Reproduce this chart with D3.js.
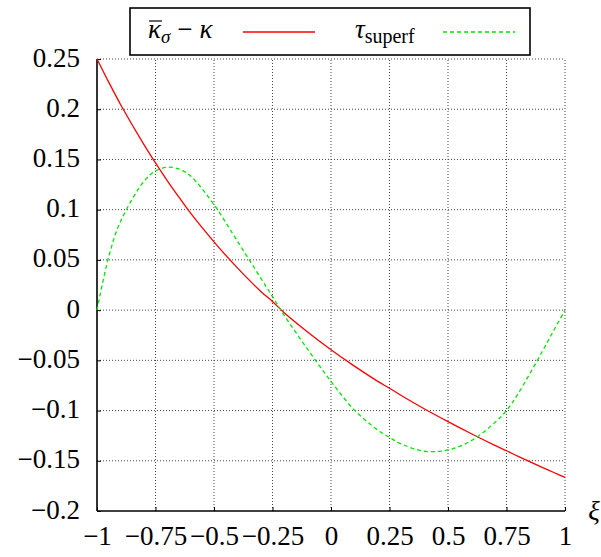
<!DOCTYPE html>
<html><head><meta charset="utf-8">
<script src="https://cdn.jsdelivr.net/npm/d3@7"></script>
<style>body{margin:0;background:#fff}svg{display:block}svg text{font-family:"Liberation Serif","DejaVu Serif",serif}</style>
</head><body>
<svg id="c" width="601" height="557"></svg>
<script>
const xi = [-1,-0.95,-0.9,-0.8,-0.75,-0.7,-0.65,-0.6,-0.5,-0.4,-0.3,-0.25,-0.2,-0.1,0,0.1,0.2,0.25,0.3,0.4,0.5,0.6,0.7,0.75,0.8,0.9,0.95,1];
const kappaDiff = [0.25,0.227,0.205,0.165,0.1466,0.129,0.1125,0.0965,0.068,0.042,0.0186,0.0086,-0.0026,-0.0218,-0.0395,-0.0558,-0.0709,-0.0778,-0.085,-0.0984,-0.111,-0.1231,-0.1346,-0.1400,-0.1457,-0.1563,-0.1614,-0.1665];
const tauSuperf = [0,0.053,0.088,0.128,0.1385,0.1422,0.1405,0.1335,0.105,0.0686,0.0319,0.0135,-0.0052,-0.0389,-0.071,-0.0995,-0.1195,-0.1267,-0.1332,-0.1405,-0.1392,-0.1299,-0.112,-0.1,-0.083,-0.0424,-0.021,0];
const xTicks = [-1,-0.75,-0.5,-0.25,0,0.25,0.5,0.75,1];
const xTickLabels = ["−1","−0.75","−0.5","−0.25","0","0.25","0.5","0.75","1"];
const yTicks = [0.25,0.2,0.15,0.1,0.05,0,-0.05,-0.1,-0.15,-0.2];
const yTickLabels = ["0.25","0.2","0.15","0.1","0.05","0","−0.05","−0.1","−0.15","−0.2"];

const svg = d3.select("#c");
const L = 97, R = 565, T = 59, B = 511;
const x = d3.scaleLinear().domain([-1,1]).range([L,R]);
const y = d3.scaleLinear().domain([-0.2,0.25]).range([B,T]);
const font = '"Liberation Serif","DejaVu Serif",serif';

// grid
const grid = svg.append("g").attr("stroke","#444").attr("stroke-width",1).attr("stroke-dasharray","1,2");
xTicks.forEach(t => { if (t > -1) grid.append("line").attr("x1",x(t)).attr("x2",x(t)).attr("y1",B).attr("y2",T); });
yTicks.forEach(t => { if (t > -0.2) grid.append("line").attr("x1",L).attr("x2",R).attr("y1",y(t)).attr("y2",y(t)); });

// axes
const xAxis = svg.append("g").attr("transform",`translate(0,${B})`)
  .call(d3.axisBottom(x).tickValues(xTicks).tickSize(-4).tickFormat((d,i)=>xTickLabels[i]));
const yAxis = svg.append("g").attr("transform",`translate(${L},0)`)
  .call(d3.axisLeft(y).tickValues(yTicks).tickSize(-4).tickFormat((d,i)=>yTickLabels[i]));
[xAxis,yAxis].forEach(a=>{
  a.attr("font-family",null).attr("font-size",null);
  a.select(".domain").attr("stroke","#000").attr("stroke-width",1.6);
  a.selectAll(".tick line").attr("stroke","#000").attr("stroke-width",1);
  a.selectAll("text").style("font-family",font).style("font-size","27px").attr("fill","#000");
});
yAxis.select(".domain").attr("d",`M0,${B-T}V0`).attr("transform",`translate(0,${T})`);
xAxis.select(".domain").attr("d",`M${L},0H${R}`);
yAxis.selectAll("text").attr("x",-17).attr("dy",null).attr("y",7);
xAxis.selectAll("text").attr("dy",null).attr("y",34);

// curves
const line = d3.line().curve(d3.curveCatmullRom.alpha(0.5));
svg.append("path").attr("d", line(xi.map((d,i)=>[x(d),y(kappaDiff[i])])))
  .attr("fill","none").attr("stroke","#ff0000").attr("stroke-width",1.3);
svg.append("path").attr("d", line(xi.map((d,i)=>[x(d),y(tauSuperf[i])])))
  .attr("fill","none").attr("stroke","#00e600").attr("stroke-width",1.3).attr("stroke-dasharray","4,3");

// axis label
svg.append("text").attr("x",594).attr("y",520).attr("text-anchor","middle")
  .style("font-family",font).style("font-style","italic").style("font-size","27px").text("ξ");

// legend
const lg = svg.append("g");
lg.append("rect").attr("x",130).attr("y",8).attr("width",400).attr("height",47)
  .attr("fill","#fff").attr("stroke","#000").attr("stroke-width",1.6);
const t1 = lg.append("text").attr("x",148).attr("y",38).style("font-family",font).style("font-size","27px");
t1.append("tspan").style("font-style","italic").text("κ");
t1.append("tspan").style("font-style","italic").style("font-size","19px").attr("dy",5).text("σ");
t1.append("tspan").attr("dy",-5).attr("dx",7).text("−");
t1.append("tspan").style("font-style","italic").attr("dx",7).text("κ");
const ext = t1.node().getExtentOfChar(0);
lg.append("line").attr("x1",ext.x+1).attr("x2",ext.x+ext.width+1).attr("y1",ext.y+7).attr("y2",ext.y+7)
  .attr("stroke","#000").attr("stroke-width",1.2);
lg.append("line").attr("x1",243).attr("x2",315).attr("y1",32).attr("y2",32).attr("stroke","#ff0000").attr("stroke-width",1.3);
const t2 = lg.append("text").attr("x",355).attr("y",38).style("font-family",font).style("font-size","27px");
t2.append("tspan").style("font-style","italic").text("τ");
t2.append("tspan").style("font-size","20px").attr("dy",5).text("superf");
lg.append("line").attr("x1",443).attr("x2",515).attr("y1",32).attr("y2",32).attr("stroke","#00e600").attr("stroke-width",1.3).attr("stroke-dasharray","4,3");
</script>
</body></html>
